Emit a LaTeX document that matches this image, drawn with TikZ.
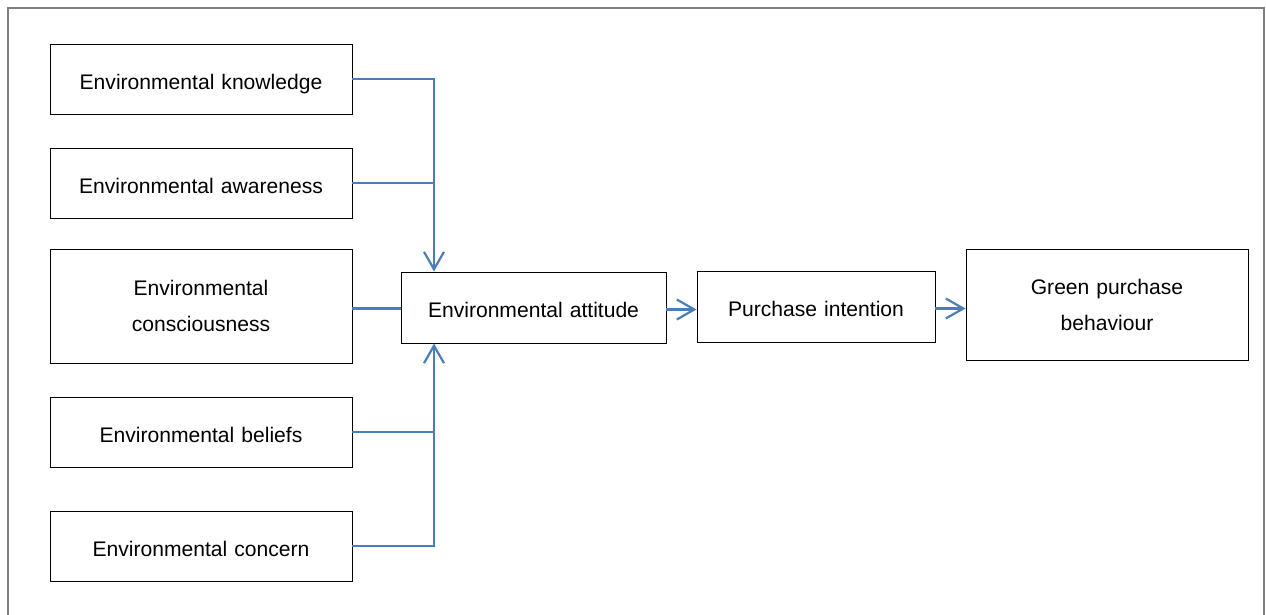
\documentclass[tikz,border=0pt]{standalone}
\usepackage{fontspec}
\setmainfont{Liberation Sans}
\usepackage{tikz}
\usetikzlibrary{arrows.meta,positioning,calc}
\definecolor{linkBlue}{HTML}{4A7EBB}
\definecolor{frameGray}{HTML}{808080}
\tikzset{
  construct/.style={draw=black, line width=0.55pt, align=center, font=\fontsize{12}{20.5}\selectfont, minimum height=1.4cm, text width=#1, inner sep=0pt},
  construct/.default=6.04cm,
  oneline/.style={text height=14pt, text depth=2.5pt},
  linkline/.style={draw=linkBlue, line width=1.25pt},
  arrflow/.style={linkline, -{Straight Barb[length=3.5mm, width=4mm, line width=1.25pt]}},
}

\begin{document}
\begin{tikzpicture}
\useasboundingbox (0,0) rectangle (25.32,12.3);
\draw[frameGray, line width=0.6pt] (0.16,-0.2) -- (0.16,12.14) -- (25.28,12.14) -- (25.28,-0.2);

% antecedents
\node[construct, oneline] (know) at (4.02,10.72) {Environmental knowledge};
\node[construct, oneline] (aware) at (4.02,8.64) {Environmental awareness};
\node[construct, minimum height=2.28cm] (consc) at (4.02,6.18) {Environmental\\consciousness};
\node[construct, oneline] (belief) at (4.02,3.66) {Environmental beliefs};
\node[construct, oneline] (concern) at (4.02,1.38) {Environmental concern};

% chain
\node[construct=5.3cm, oneline, minimum height=1.42cm] (attit) at (10.67,6.15) {Environmental attitude};
\node[construct=4.76cm, oneline, minimum height=1.42cm] (intent) at (16.32,6.17) {Purchase intention};
\node[construct=5.64cm, minimum height=2.22cm] (green) at (22.14,6.21) {Green purchase\\behaviour};

\coordinate (jx) at (8.68,0);
\coordinate (cy) at (0,6.13);
\coordinate (ay) at (0,6.11);
\draw[arrflow] (know.east) -| (jx |- attit.north);
\draw[linkline] (aware.east) -- (jx |- aware.east);
\draw[linkline] (consc.east |- cy) -- (attit.west |- cy);
\draw[linkline] (belief.east) -- (jx |- belief.east);
\draw[arrflow] (concern.east) -| (jx |- attit.south);
\draw[arrflow] (attit.east |- ay) -- (intent.west |- ay);
\draw[arrflow] (intent.east |- cy) -- (green.west |- cy);
\end{tikzpicture}
\end{document}
